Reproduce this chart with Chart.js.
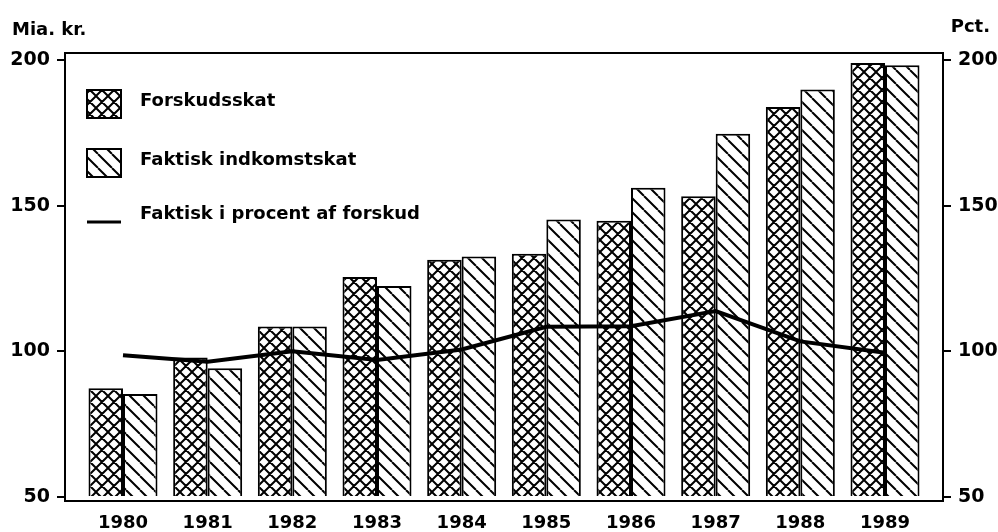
<!DOCTYPE html>
<html>
<head>
<meta charset="utf-8">
<script src="https://cdn.jsdelivr.net/npm/chart.js@4.4.1/dist/chart.umd.min.js"></script>
<style>
  html, body { margin: 0; padding: 0; background: #fff; }
  #wrap { width: 998px; height: 532px; }
</style>
</head>
<body>
<div id="wrap"><canvas id="myChart" width="998" height="532"></canvas></div>
<script>
// DATA
const years = [1980, 1981, 1982, 1983, 1984, 1985, 1986, 1987, 1988, 1989];
const forskudsskat = [87.3, 97.9, 108.5, 125.5, 131.4, 133.5, 144.8, 153.2, 183.9, 199.0];
const faktiskSkat = [85.3, 94.2, 108.5, 122.4, 132.5, 145.2, 156.1, 174.7, 189.9, 198.2];
const faktiskPct = [98.6, 96.4, 100.0, 97.0, 100.6, 108.4, 108.6, 113.8, 103.4, 99.5];
const yTicks = [50, 100, 150, 200];
const seriesNames = ['Forskudsskat', 'Faktisk indkomstskat', 'Faktisk i procent af forskud'];
const leftUnit = 'Mia. kr.';
const rightUnit = 'Pct.';

const FONT = "'DejaVu Sans', 'Liberation Sans', sans-serif";
Chart.defaults.font.family = FONT;
Chart.defaults.font.weight = 'bold';
Chart.defaults.font.size = 18;
Chart.defaults.color = '#000';

const ctx = document.getElementById('myChart').getContext('2d');

// hatch patterns for the bars
function makeHatch(size, cross) {
    const c = document.createElement('canvas');
    c.width = size;
    c.height = size;
    const g = c.getContext('2d');
    g.fillStyle = '#fff';
    g.fillRect(0, 0, size, size);
    g.strokeStyle = '#000';
    g.lineWidth = 2;
    g.beginPath();
    for (const k of [-size, 0, size]) {
        g.moveTo(k, 0);
        g.lineTo(k + size, size);
        if (cross) {
            g.moveTo(k + size, 0);
            g.lineTo(k, size);
        }
    }
    g.stroke();
    return ctx.createPattern(c, 'repeat');
}
const crossPattern = makeHatch(12, true);
const diagPattern = makeHatch(14, false);

// frame round the plot area
const framePlugin = {
    id: 'frame',
    afterDatasetsDraw(chart) {
        const a = chart.chartArea;
        const c = chart.ctx;
        c.save();
        c.strokeStyle = '#000';
        c.lineWidth = 2;
        c.strokeRect(a.left, a.top, a.right - a.left, a.bottom - a.top);
        c.restore();
    }
};

// legend inside the plot + unit labels
const insideLegend = {
    id: 'insideLegend',
    afterDraw(chart) {
        const a = chart.chartArea;
        const c = chart.ctx;
        const ds = chart.data.datasets;
        c.save();
        c.font = 'bold 18px ' + FONT;
        c.fillStyle = '#000';
        c.strokeStyle = '#000';
        c.textBaseline = 'middle';
        c.textAlign = 'left';
        const boxX = a.left + 22, boxW = 34, boxH = 28, textX = a.left + 75;
        const rows = [a.top + 51, a.top + 110, a.top + 167];
        // bars are datasets 1 and 2, the line is dataset 0
        [1, 2].forEach((i, r) => {
            c.fillStyle = ds[i].backgroundColor;
            c.fillRect(boxX, rows[r] - boxH / 2, boxW, boxH);
            c.lineWidth = 2;
            c.strokeRect(boxX, rows[r] - boxH / 2, boxW, boxH);
            c.fillStyle = '#000';
            c.fillText(ds[i].label, textX, rows[r] - 3);
        });
        c.lineWidth = 3;
        c.beginPath();
        c.moveTo(boxX, rows[2] + 2);
        c.lineTo(boxX + boxW, rows[2] + 2);
        c.stroke();
        c.fillText(ds[0].label, textX, rows[2] - 6);

        // unit labels
        c.textBaseline = 'alphabetic';
        c.fillText(leftUnit, 12, 35);
        c.textAlign = 'right';
        c.fillText(rightUnit, 990, 32);
        c.restore();
    }
};

const yAxisBase = {
    min: 48.6,
    max: 202.4,
    afterBuildTicks: (axis) => { axis.ticks = yTicks.map(v => ({ value: v })); },
    grid: { drawOnChartArea: false, tickLength: 8, color: '#000', lineWidth: 2 },
    border: { display: false },
    ticks: { padding: 7, font: { size: 19 } }
};

const myChart = new Chart(ctx, {
    type: 'bar',
    data: {
        datasets: [
            {
                type: 'line',
                label: seriesNames[2],
                data: years.map((y, i) => ({ x: y, y: faktiskPct[i] })),
                yAxisID: 'y1',
                borderColor: '#000',
                borderWidth: 4,
                pointRadius: 0,
                tension: 0,
                fill: false,
                order: 0
            },
            {
                label: seriesNames[0],
                data: years.map((y, i) => ({ x: y, y: forskudsskat[i] })),
                yAxisID: 'y',
                backgroundColor: crossPattern,
                borderColor: '#000',
                borderWidth: 2,
                base: 50,
                order: 1
            },
            {
                label: seriesNames[1],
                data: years.map((y, i) => ({ x: y, y: faktiskSkat[i] })),
                yAxisID: 'y',
                backgroundColor: diagPattern,
                borderColor: '#000',
                borderWidth: 2,
                base: 50,
                order: 1
            }
        ]
    },
    options: {
        responsive: false,
        animation: false,
        devicePixelRatio: 1,
        layout: { padding: { top: 53, left: 0, right: 0, bottom: 0 } },
        datasets: {
            bar: { categoryPercentage: 0.815, barPercentage: 1.0 }
        },
        plugins: {
            legend: { display: false },
            tooltip: { enabled: false }
        },
        scales: {
            x: {
                type: 'linear',
                offset: false,
                min: 1979.315,
                max: 1989.685,
                afterBuildTicks: (axis) => { axis.ticks = years.map(v => ({ value: v })); },
                grid: { display: false, offset: false },
                border: { display: false },
                ticks: { callback: (v) => String(v), padding: 4, maxRotation: 0, autoSkip: false, font: { size: 18 } },
                afterFit: (axis) => { axis.height = 31; }
            },
            y: Object.assign({}, yAxisBase, {
                position: 'left',
                afterFit: (axis) => { axis.width = 65; }
            }),
            y1: Object.assign({}, yAxisBase, {
                position: 'right',
                afterFit: (axis) => { axis.width = 55; }
            })
        }
    },
    plugins: [framePlugin, insideLegend]
});
</script>
</body>
</html>
